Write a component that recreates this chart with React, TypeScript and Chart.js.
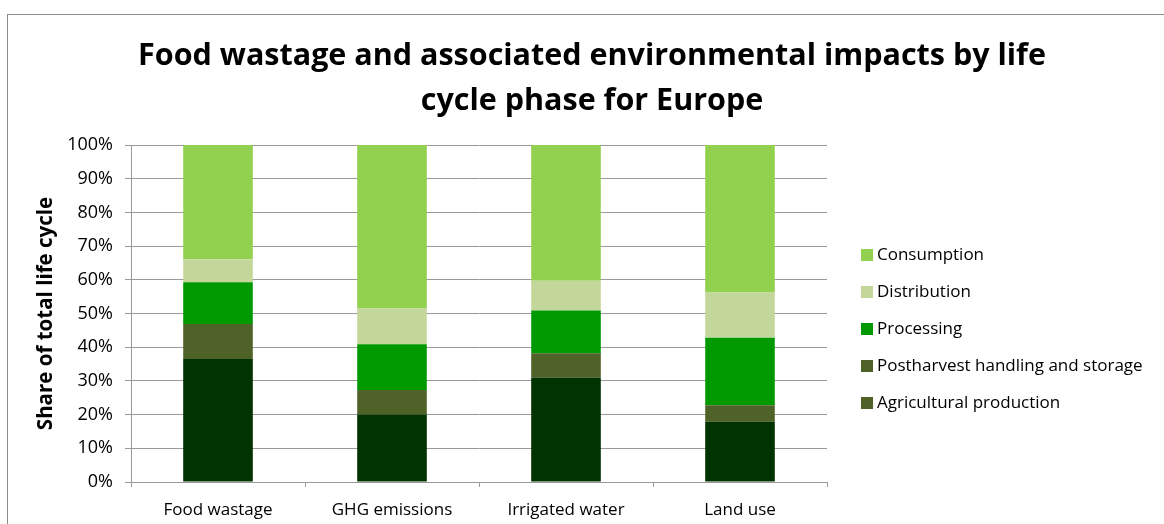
import { useEffect, useRef } from "react";
import { Chart, registerables } from "chart.js";

Chart.register(...registerables);

const categories = ["Food wastage", "GHG emissions", "Irrigated water", "Land use"];
const seriesNames = [
  "Agricultural production",
  "Postharvest handling and storage",
  "Processing",
  "Distribution",
  "Consumption",
];
const agricultural = [36.5, 20.0, 31.0, 17.9];
const postharvest = [10.4, 7.3, 7.2, 4.9];
const processing = [12.4, 13.6, 12.7, 20.0];
const distribution = [6.8, 10.6, 8.8, 13.4];
const consumption = [33.9, 48.5, 40.3, 43.8];
const yTickValues = [0, 10, 20, 30, 40, 50, 60, 70, 80, 90, 100];
const titleLines = [
  "Food wastage and associated environmental impacts by life",
  "cycle phase for Europe",
];
const yTitle = "Share of total life cycle";

const barColors = ["#003300", "#4F6228", "#009900", "#C4D79B", "#92D050"];
const legendColors = ["#4F6228", "#4F6228", "#009900", "#C4D79B", "#92D050"];
const FONT = "'Open Sans', Lato, sans-serif";
const GRID = "#9a9a9a";

const framePlugin = {
  id: "frame",
  beforeDraw(chart: any) {
    const { ctx } = chart;
    ctx.save();
    ctx.fillStyle = "#ffffff";
    ctx.fillRect(0, 0, chart.width, chart.height);
    ctx.strokeStyle = "#8c8c8c";
    ctx.lineWidth = 1;
    ctx.strokeRect(7.5, 14.5, chart.width + 20, chart.height + 20);
    ctx.restore();
  },
};

const sideLegendPlugin = {
  id: "sideLegend",
  afterDraw(chart: any) {
    const { ctx, chartArea } = chart;
    const ds = chart.data.datasets;
    ctx.save();
    ctx.font = `17px ${FONT}`;
    ctx.textBaseline = "middle";
    ctx.textAlign = "left";
    const x0 = chartArea.right + 34;
    const y0 = chartArea.top + 110;
    for (let i = ds.length - 1, k = 0; i >= 0; i--, k++) {
      const y = y0 + k * 37;
      ctx.fillStyle = legendColors[i];
      ctx.fillRect(x0, y - 6, 12, 12);
      ctx.fillStyle = "#000000";
      ctx.fillText(ds[i].label, x0 + 16, y);
    }
    ctx.restore();
  },
};

export default function App() {
  const ref = useRef<HTMLCanvasElement | null>(null);

  useEffect(() => {
    if (!ref.current) return;
    const values = [agricultural, postharvest, processing, distribution, consumption];
    const chart = new Chart(ref.current, {
      type: "bar",
      data: {
        labels: categories,
        datasets: seriesNames.map((name, i) => ({
          label: name,
          data: values[i],
          backgroundColor: barColors[i],
          borderWidth: 0,
          barPercentage: 0.4,
          categoryPercentage: 1,
        })),
      },
      options: {
        animation: false,
        responsive: false,
        maintainAspectRatio: false,
        layout: { padding: { left: 34, right: 14, top: 0, bottom: 0 } },
        plugins: {
          legend: { display: false },
          tooltip: { enabled: false },
          title: {
            display: true,
            text: titleLines,
            color: "#000000",
            font: { family: FONT, size: 30.5, weight: "bold", lineHeight: 45 / 30.5 },
            padding: { top: 33.5, bottom: 21.5 },
          },
        },
        scales: {
          x: {
            stacked: true,
            offset: true,
            grid: {
              display: true,
              offset: true,
              drawOnChartArea: false,
              drawTicks: true,
              tickLength: 5,
              color: GRID,
            },
            border: { display: true, color: GRID },
            ticks: {
              color: "#000000",
              font: { family: FONT, size: 17 },
              padding: 13,
              maxRotation: 0,
            },
            afterFit: (s: any) => {
              s.height = 42;
            },
          },
          y: {
            stacked: true,
            min: 0,
            max: 100,
            afterBuildTicks: (s: any) => {
              s.ticks = yTickValues.map((v) => ({ value: v }));
            },
            grid: { color: GRID, tickLength: 6, drawTicks: true },
            border: { display: true, color: GRID },
            ticks: {
              color: "#000000",
              font: { family: FONT, size: 18 },
              padding: 12,
              callback: (v: any) => `${v}%`,
            },
            title: {
              display: true,
              text: yTitle,
              color: "#000000",
              font: { family: FONT, size: 20.5, weight: "bold" },
              padding: { top: 0, bottom: 0 },
            },
            afterFit: (s: any) => {
              s.width = 97;
            },
          },
          yR: {
            position: "right",
            display: true,
            min: 0,
            max: 100,
            grid: { display: false, drawTicks: false },
            border: { display: false },
            ticks: { display: false },
            afterFit: (s: any) => {
              s.width = 323;
            },
          },
        },
      },
      plugins: [framePlugin, sideLegendPlugin],
    } as any);
    return () => chart.destroy();
  }, []);

  return (
    <div style={{ position: "absolute", left: 0, top: 0, width: 1164, height: 524 }}>
      <canvas ref={ref} width={1164} height={524} style={{ display: "block" }} />
    </div>
  );
}
